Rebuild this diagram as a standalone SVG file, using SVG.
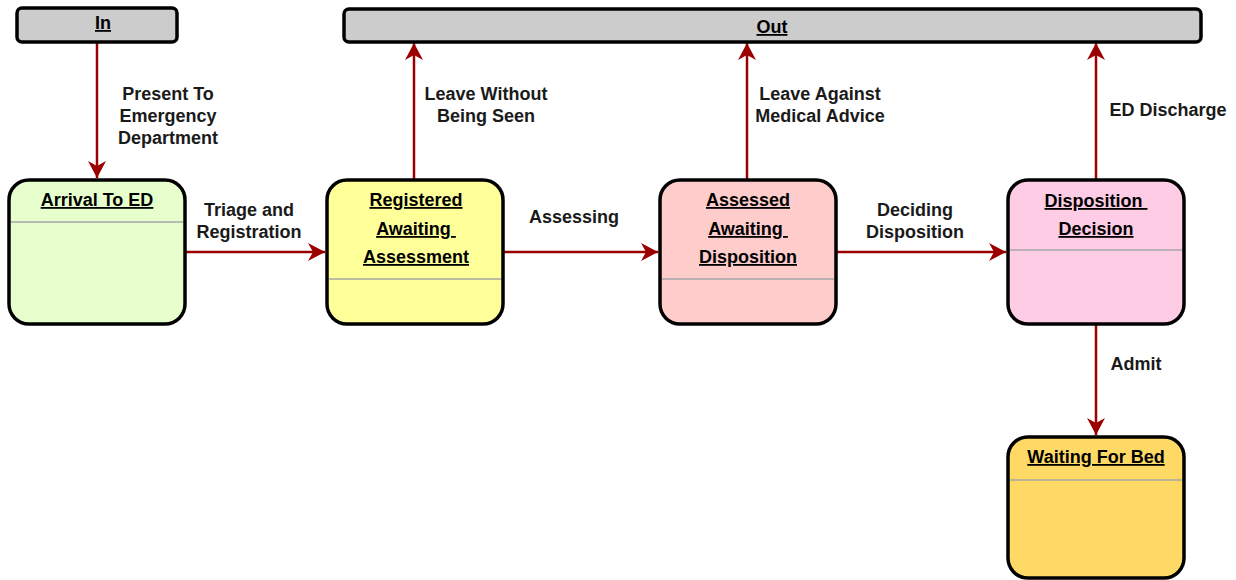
<svg xmlns="http://www.w3.org/2000/svg" width="1236" height="580" viewBox="0 0 1236 580">
<style>
.box{stroke:#000;stroke-width:3.5}
.div{stroke:#a6a6a6;stroke-width:1.5}
.t{font-family:"Liberation Sans",Arial,sans-serif;font-weight:bold;font-size:18px;fill:#000;text-anchor:middle;text-decoration:underline;white-space:pre}
.l{font-family:"Liberation Sans",Arial,sans-serif;font-weight:bold;font-size:18px;fill:#1a1a1a;text-anchor:middle}
.c{fill:none;stroke:#9b0000;stroke-width:2.5}
</style>
<defs>
<marker id="ah" markerUnits="userSpaceOnUse" markerWidth="20" markerHeight="20" viewBox="-17 -10 20 20" refX="0" refY="0" orient="auto">
<path d="M0,0 L-17,-9 L-12,0 L-17,9 Z" fill="#9b0000"/>
</marker>
</defs>
<rect width="1236" height="580" fill="#fff"/>
<g id="connectors">
<line class="c" x1="97" y1="42" x2="97" y2="178" marker-end="url(#ah)"/>
<line class="c" x1="185" y1="252" x2="325" y2="252" marker-end="url(#ah)"/>
<line class="c" x1="503" y1="252" x2="658" y2="252" marker-end="url(#ah)"/>
<line class="c" x1="836" y1="252" x2="1006" y2="252" marker-end="url(#ah)"/>
<line class="c" x1="414" y1="180" x2="414" y2="43" marker-end="url(#ah)"/>
<line class="c" x1="747" y1="180" x2="747" y2="43" marker-end="url(#ah)"/>
<line class="c" x1="1096" y1="180" x2="1096" y2="43" marker-end="url(#ah)"/>
<line class="c" x1="1096" y1="324" x2="1096" y2="435" marker-end="url(#ah)"/>
<text class="l" x="168" y="100">Present To</text>
<text class="l" x="168" y="122">Emergency</text>
<text class="l" x="168" y="144">Department</text>
<text class="l" x="249" y="216">Triage and</text>
<text class="l" x="249" y="238">Registration</text>
<text class="l" x="574" y="223">Assessing</text>
<text class="l" x="915" y="216">Deciding</text>
<text class="l" x="915" y="238">Disposition</text>
<text class="l" x="486" y="100">Leave Without</text>
<text class="l" x="486" y="122">Being Seen</text>
<text class="l" x="820" y="100">Leave Against</text>
<text class="l" x="820" y="122">Medical Advice</text>
<text class="l" x="1168" y="116">ED Discharge</text>
<text class="l" x="1136" y="370">Admit</text>
</g>
<g id="in">
<rect class="box" x="17" y="8" width="160" height="34" rx="5" fill="#cccccc"/>
<text class="t" x="103" y="29">In</text>
</g>
<g id="out">
<rect class="box" x="344" y="9" width="857" height="33" rx="5" fill="#cccccc"/>
<text class="t" x="772" y="33">Out</text>
</g>
<g id="arrival">
<rect class="box" x="9" y="180" width="176" height="144" rx="20" fill="#e6ffcc"/>
<line class="div" x1="11" y1="222" x2="183" y2="222"/>
<text class="t" x="97" y="206">Arrival To ED</text>
</g>
<g id="registered">
<rect class="box" x="327" y="180" width="176" height="144" rx="20" fill="#ffff99"/>
<line class="div" x1="329" y1="279" x2="501" y2="279"/>
<text class="t" x="416" y="206">Registered</text>
<text class="t" x="416" y="235">Awaiting </text>
<text class="t" x="416" y="263">Assessment</text>
</g>
<g id="assessed">
<rect class="box" x="660" y="180" width="176" height="144" rx="20" fill="#ffcccc"/>
<line class="div" x1="662" y1="279" x2="834" y2="279"/>
<text class="t" x="748" y="206">Assessed</text>
<text class="t" x="748" y="235">Awaiting </text>
<text class="t" x="748" y="263">Disposition</text>
</g>
<g id="disposition">
<rect class="box" x="1008" y="180" width="176" height="144" rx="20" fill="#ffcce6"/>
<line class="div" x1="1010" y1="250" x2="1182" y2="250"/>
<text class="t" x="1096" y="207">Disposition </text>
<text class="t" x="1096" y="235">Decision</text>
</g>
<g id="waiting">
<rect class="box" x="1008" y="437" width="176" height="141" rx="20" fill="#ffd966"/>
<line class="div" x1="1010" y1="480" x2="1182" y2="480"/>
<text class="t" x="1096" y="463">Waiting For Bed</text>
</g>
</svg>
